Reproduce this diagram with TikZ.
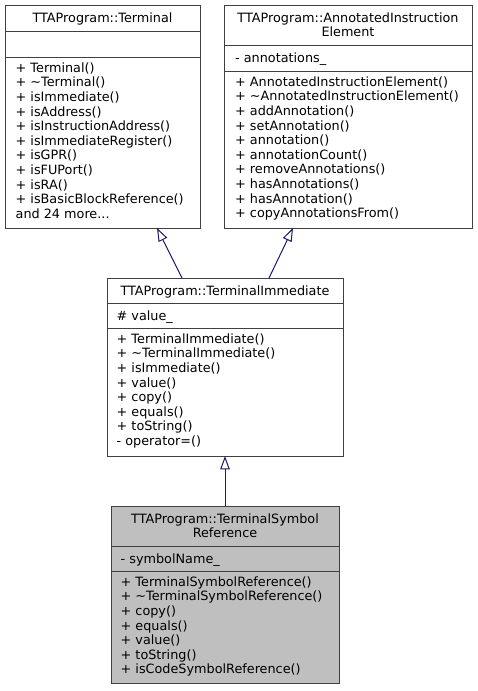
\documentclass[tikz,border=0pt]{standalone}
\usepackage{fontspec}
\setmainfont{DejaVu Sans}
\usetikzlibrary{arrows.meta,calc}
\definecolor{boxgray}{HTML}{404040}
\definecolor{navyline}{HTML}{191970}
\definecolor{curfill}{HTML}{BFBFBF}
\newcommand\threedots{...}
\begin{document}
\begin{tikzpicture}[x=1pt,y=-1pt,
  umlbox/.style={draw=boxgray,line width=1pt,rectangle,inner sep=0pt,outer sep=0pt,anchor=north west},
  sepline/.style={draw=boxgray,line width=1pt},
  ttl/.style={anchor=base,inner sep=0pt,font=\fontsize{12.8pt}{14.6pt}\selectfont},
  mem/.style={anchor=base west,inner sep=0pt,font=\fontsize{12.8pt}{14.6pt}\selectfont},
  inh/.style={draw=navyline,line width=1pt,-{Triangle[open,length=13.3pt,width=9.5pt]}}
]
\useasboundingbox[fill=white] (0,0) rectangle (477,691);

% ---------- Terminal ----------
\node[umlbox,minimum width=195pt,minimum height=223pt] (term) at (5,5) {};
\draw[sepline] (5,31) -- (200,31);
\draw[sepline] (5,57) -- (200,57);
\node[ttl] (termT) at (102.5,22.5) {TTAProgram::Terminal};
\foreach \t [count=\i from 0] in {{+ Terminal()},{+ \char"7E Terminal()},{+ isImmediate()},{+ isAddress()},{+ isInstructionAddress()},{+ isImmediateRegister()},{+ isGPR()},{+ isFUPort()},{+ isRA()},{+ isBasicBlockReference()},{and 24 more\threedots}}
  \node[mem] (termM\i) at (15.5,72.3+14.6*\i) {\t};

% ---------- AnnotatedInstructionElement ----------
\node[umlbox,minimum width=248pt,minimum height=223pt] (ann) at (224,5) {};
\draw[sepline] (224,45) -- (472,45);
\draw[sepline] (224,71) -- (472,71);
\node[ttl] (annT1) at (348,22) {TTAProgram::AnnotatedInstruction};
\node[ttl] (annT2) at (348,36.6) {Element};
\node[mem] (annA) at (235,62.3) {- annotations\_};
\foreach \t [count=\i from 0] in {{+ AnnotatedInstructionElement()},{+ \char"7E AnnotatedInstructionElement()},{+ addAnnotation()},{+ setAnnotation()},{+ annotation()},{+ annotationCount()},{+ removeAnnotations()},{+ hasAnnotations()},{+ hasAnnotation()},{+ copyAnnotationsFrom()}}
  \node[mem] (annM\i) at (235,86.3+14.6*\i) {\t};

% ---------- TerminalImmediate ----------
\node[umlbox,minimum width=236pt,minimum height=178pt] (ti) at (107,278) {};
\draw[sepline] (107,303) -- (343,303);
\draw[sepline] (107,328) -- (343,328);
\node[ttl] (tiT) at (225,295) {TTAProgram::TerminalImmediate};
\node[mem] (tiA) at (116.5,320) {\# value\_};
\foreach \t [count=\i from 0] in {{+ TerminalImmediate()},{+ \char"7E TerminalImmediate()},{+ isImmediate()},{+ value()},{+ copy()},{+ equals()},{+ toString()},{- operator=()}}
  \node[mem] (tiM\i) at (116.5,343.3+14.6*\i) {\t};

% ---------- TerminalSymbolReference ----------
\node[umlbox,fill=curfill,minimum width=228pt,minimum height=177pt] (ref) at (111,506) {};
\draw[sepline] (111,546) -- (339,546);
\draw[sepline] (111,571) -- (339,571);
\node[ttl] (refT1) at (225,523) {TTAProgram::TerminalSymbol};
\node[ttl] (refT2) at (225,537.6) {Reference};
\node[mem] (refA) at (120.5,563) {- symbolName\_};
\foreach \t [count=\i from 0] in {{+ TerminalSymbolReference()},{+ \char"7E TerminalSymbolReference()},{+ copy()},{+ equals()},{+ value()},{+ toString()},{+ isCodeSymbolReference()}}
  \node[mem] (refM\i) at (120.5,586.3+14.6*\i) {\t};

% ---------- inheritance connectors ----------
\draw[inh] ($(ti.north west)+(75,0)$) -- ($(term.south west)+(152,0)$);
\draw[inh] ($(ti.north west)+(162,0)$) -- ($(ann.south west)+(69,0)$);
\draw[inh] (ref.north) -- (ti.south);
\end{tikzpicture}
\end{document}
